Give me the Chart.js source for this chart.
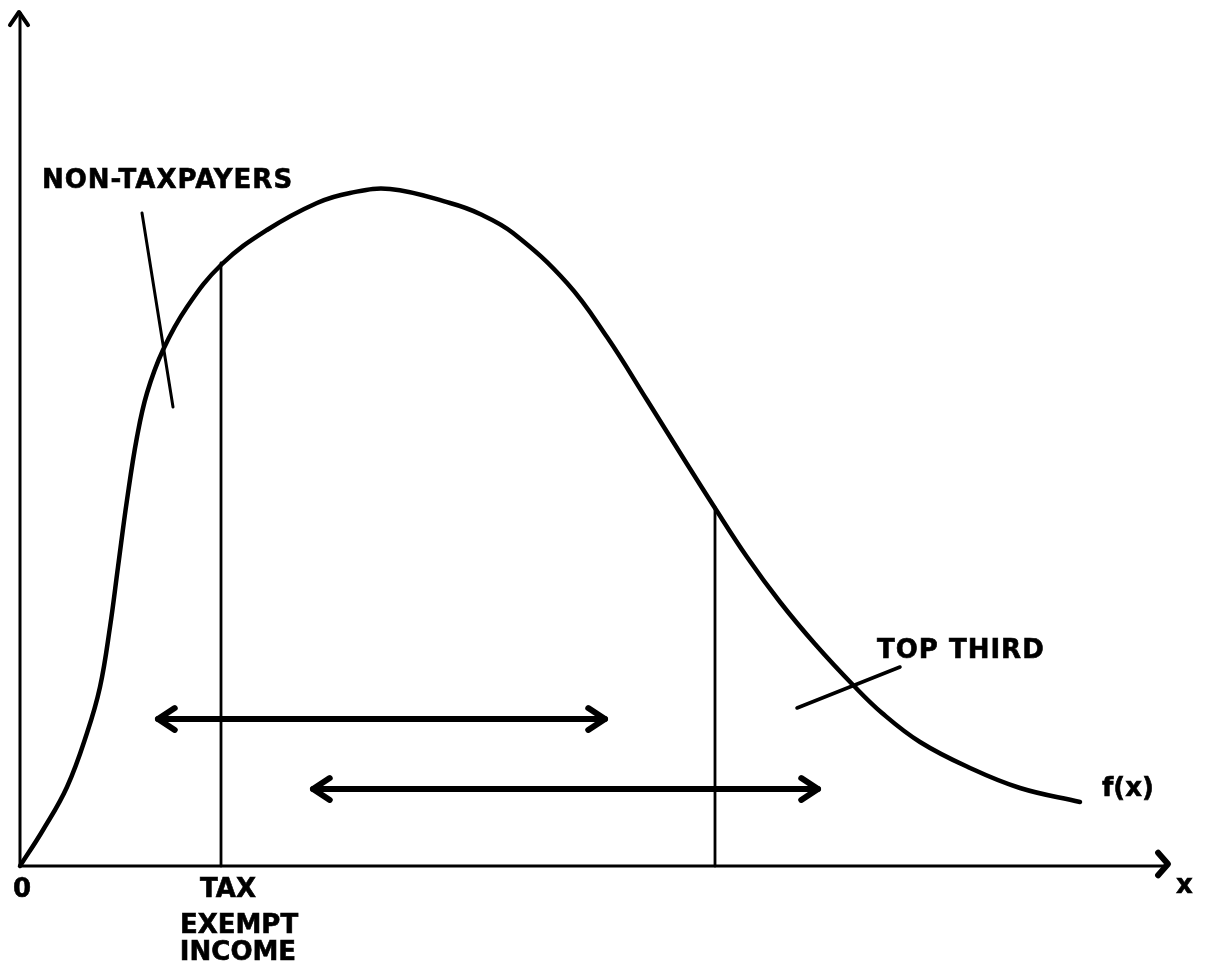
<!DOCTYPE html>
<html lang="en">
<head>
<meta charset="utf-8">
<title>f(x) - tax exempt income</title>
<script src="https://cdn.jsdelivr.net/npm/chart.js@4.4.0/dist/chart.umd.min.js"></script>
<style>
    html, body { margin: 0; padding: 0; background: #fff; }
    #wrap { width: 1205px; height: 967px; }
</style>
</head>
<body>
<div id="wrap"><canvas id="fx"></canvas></div>

<script type="text/javascript">

    // income distribution f(x)
    const curveX = [0, 23, 47, 67, 80, 90, 98, 107, 117, 127, 143, 167, 202, 247, 297, 330, 370, 430,
        460, 493, 547, 587, 627, 667, 693, 727, 760, 795, 834, 862, 900, 950, 1000, 1060];
    const curveY = [0, 36, 79, 133, 179, 239, 299, 366, 429, 473, 516, 559, 602, 636, 663, 673, 677, 663,
        652, 633, 583, 529, 466, 402, 361, 309, 264, 222, 180, 153, 124, 98, 78, 64];

    // vertical cut lines: tax exempt income, start of top third
    const cutX = [201, 695];
    const cutTop = [603, 359];

    // double headed arrows
    const arrowFrom = [138, 293];
    const arrowTo = [585, 798];
    const arrowY = [147, 77];

    // label pointer strokes
    const pointerNonTax = [[122, 653], [153, 459]];
    const pointerTopThird = [[777, 158], [880, 199]];

    const xMax = 1148;
    const yMax = 854;

    const ink = "#000";
    const font = "bold 26px 'DejaVu Sans'";

    function chevron(ctx, x, y, dx, dy, len, ang, width) {
        const a = Math.atan2(dy, dx);
        ctx.save();
        ctx.strokeStyle = ink;
        ctx.lineWidth = width;
        ctx.lineCap = "round";
        ctx.lineJoin = "round";
        ctx.beginPath();
        ctx.moveTo(x - len * Math.cos(a - ang), y - len * Math.sin(a - ang));
        ctx.lineTo(x, y);
        ctx.lineTo(x - len * Math.cos(a + ang), y - len * Math.sin(a + ang));
        ctx.stroke();
        ctx.restore();
    }

    const sketchPlugin = {
        id: "sketch",
        beforeDatasetsDraw(chart) {
            const ctx = chart.ctx;
            const xs = chart.scales.x, ys = chart.scales.y;
            const x0 = xs.getPixelForValue(0), y0 = ys.getPixelForValue(0);
            const xEnd = xs.getPixelForValue(xMax), yEnd = ys.getPixelForValue(yMax);
            ctx.save();
            ctx.strokeStyle = ink;
            ctx.lineWidth = 3;
            ctx.beginPath();
            ctx.moveTo(x0, y0);
            ctx.lineTo(x0, yEnd);
            ctx.moveTo(x0, y0);
            ctx.lineTo(xEnd, y0);
            ctx.stroke();
            ctx.restore();
            chevron(ctx, x0 - 1, yEnd, 0, -1, 16, 0.6, 4);
            chevron(ctx, xEnd, y0 - 2, 1, 0, 15, 0.85, 6);
        },
        afterDatasetsDraw(chart) {
            const ctx = chart.ctx;
            const xs = chart.scales.x;
            chart.data.datasets.forEach((ds, i) => {
                if (!ds.doubleArrow) return;
                const pts = chart.getDatasetMeta(i).data;
                const a = pts[0], b = pts[pts.length - 1];
                chevron(ctx, a.x, a.y, a.x - b.x, a.y - b.y, 20, 0.58, 6);
                chevron(ctx, b.x, b.y, b.x - a.x, b.y - a.y, 20, 0.58, 6);
            });

            ctx.save();
            ctx.fillStyle = ink;
            ctx.strokeStyle = ink;
            ctx.lineWidth = 0.6;
            ctx.font = font;
            ctx.textBaseline = "alphabetic";
            ctx.textAlign = "left";
            const put = (t, x, y) => { ctx.fillText(t, x, y); ctx.strokeText(t, x, y); };
            if (ctx.letterSpacing !== undefined) ctx.letterSpacing = "1px";
            put("NON-TAXPAYERS", 42, 188);
            put("TOP THIRD", 877, 658);
            if (ctx.letterSpacing !== undefined) ctx.letterSpacing = "0px";
            put("f(x)", 1102, 796);
            put("x", xs.getPixelForValue(xMax) + 8, 893);

            ctx.textAlign = "center";
            put("0", xs.getPixelForValue(0) + 2, 897);
            const ex = xs.getPixelForValue(cutX[0]);
            put("TAX", ex + 7, 897);
            put("EXEMPT", ex + 18, 933);
            put("INCOME", ex + 17, 960);
            ctx.restore();
        }
    };

    const lineStyle = (w) => ({
        borderColor: ink,
        borderWidth: w,
        pointRadius: 0,
        fill: false,
        borderCapStyle: "round"
    });

    const datasets = [
        Object.assign({
            label: "f(x)",
            data: curveX.map((x, i) => ({x: x, y: curveY[i]})),
            tension: 0.4
        }, lineStyle(4.5)),
        Object.assign({
            label: "tax exempt income",
            data: [{x: cutX[0], y: 0}, {x: cutX[0], y: cutTop[0]}]
        }, lineStyle(2.8)),
        Object.assign({
            label: "top third cut",
            data: [{x: cutX[1], y: 0}, {x: cutX[1], y: cutTop[1]}]
        }, lineStyle(2.8)),
        Object.assign({
            label: "non-taxpayers pointer",
            data: pointerNonTax.map(p => ({x: p[0], y: p[1]}))
        }, lineStyle(3)),
        Object.assign({
            label: "top third pointer",
            data: pointerTopThird.map(p => ({x: p[0], y: p[1]}))
        }, lineStyle(3.5))
    ];
    for (let i = 0; i < arrowFrom.length; i++) {
        datasets.push(Object.assign({
            label: "range " + (i + 1),
            doubleArrow: true,
            data: [{x: arrowFrom[i], y: arrowY[i]}, {x: arrowTo[i], y: arrowY[i]}]
        }, lineStyle(6)));
    }

    new Chart("fx", {
        type: "line",
        data: {datasets: datasets},
        options: {
            responsive: true,
            maintainAspectRatio: false,
            animation: false,
            layout: {padding: {left: 20, right: 37, top: 12, bottom: 101}},
            plugins: {legend: {display: false}, tooltip: {enabled: false}},
            scales: {
                x: {type: "linear", min: 0, max: xMax, display: false},
                y: {type: "linear", min: 0, max: yMax, display: false}
            },
            clip: false
        },
        plugins: [sketchPlugin]
    });

</script>
</body>
</html>
